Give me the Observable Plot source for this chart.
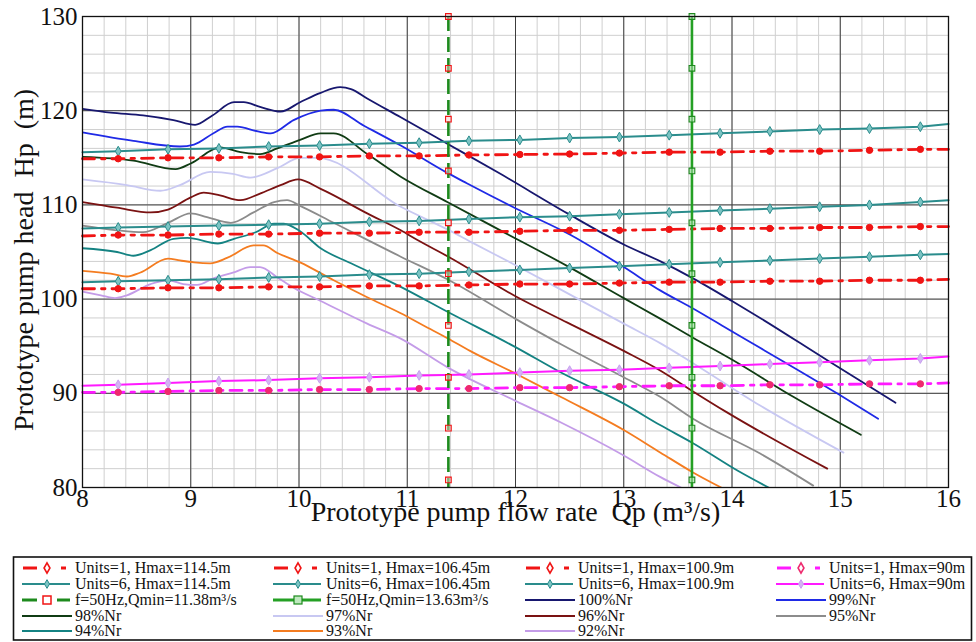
<!DOCTYPE html>
<html><head><meta charset="utf-8">
<script src="https://cdn.jsdelivr.net/npm/d3@7"></script>
<script src="https://cdn.jsdelivr.net/npm/@observablehq/plot@0.6"></script>
<style>body{margin:0;background:#fff;font-family:"Liberation Serif","Times New Roman",serif}svg{display:block}#chart{width:976px;height:642px;overflow:hidden}</style>
</head><body><div id="chart"></div><script>
// ---- data ----
const xTicks = [8, 9, 10, 11, 12, 13, 14, 15, 16];
const yTicks = [80, 90, 100, 110, 120, 130];
const xLabel = "Prototype pump flow rate  Qp (m³/s)";
const yLabel = "Prototype pump head  Hp  (m)";

const markerQ = [8.33, 8.79, 9.26, 9.72, 10.19, 10.65, 11.11, 11.57, 12.04, 12.50, 12.96, 13.42, 13.89, 14.35, 14.81, 15.27, 15.74];
const lineQ = [8, ...markerQ, 16];
const u1_1145 = [114.9, 114.9, 115.0, 115.0, 115.1, 115.1, 115.2, 115.2, 115.3, 115.35, 115.4, 115.5, 115.6, 115.6, 115.7, 115.7, 115.8, 115.9, 115.9];
const u6_1145 = [115.6, 115.7, 115.9, 116.0, 116.2, 116.3, 116.5, 116.6, 116.8, 116.9, 117.1, 117.2, 117.4, 117.6, 117.8, 118.0, 118.1, 118.3, 118.6];
const u1_10645 = [106.7, 106.8, 106.8, 106.9, 106.9, 107.0, 107.0, 107.1, 107.1, 107.2, 107.3, 107.3, 107.4, 107.5, 107.5, 107.6, 107.6, 107.7, 107.7];
const u6_10645 = [107.5, 107.6, 107.7, 107.8, 107.9, 108.0, 108.2, 108.3, 108.5, 108.7, 108.8, 109.0, 109.2, 109.4, 109.6, 109.8, 110.0, 110.3, 110.5];
const u1_1009 = [101.1, 101.1, 101.2, 101.2, 101.3, 101.3, 101.4, 101.4, 101.5, 101.6, 101.6, 101.7, 101.8, 101.8, 101.9, 101.9, 102.0, 102.0, 102.1];
const u6_1009 = [101.8, 101.9, 102.0, 102.1, 102.3, 102.4, 102.6, 102.7, 102.9, 103.1, 103.3, 103.5, 103.7, 103.9, 104.1, 104.3, 104.5, 104.7, 104.8];
const u1_90 = [90.1, 90.1, 90.2, 90.3, 90.3, 90.4, 90.4, 90.5, 90.5, 90.6, 90.6, 90.7, 90.8, 90.8, 90.9, 90.9, 91.0, 91.0, 91.1];
const u6_90 = [90.8, 90.9, 91.1, 91.3, 91.4, 91.6, 91.7, 91.9, 92.0, 92.2, 92.4, 92.5, 92.7, 92.9, 93.1, 93.3, 93.5, 93.7, 93.9];

const qminA = 11.38, qminB = 13.63;
const vMarkH = [130, 124.5, 119.1, 113.6, 108.1, 102.7, 97.2, 91.7, 86.3, 80.8];

const nr100Q = [8, 8.26, 8.56, 8.84, 9.04, 9.2, 9.4, 9.49, 9.64, 9.83, 10.01, 10.2, 10.38, 10.48, 10.63, 10.94, 11.37, 11.86, 12.48, 13.0, 13.34, 13.64, 14.0, 14.26, 14.88, 15.51];
const nr100H = [120.2, 119.8, 119.5, 119.0, 118.5, 119.5, 120.9, 120.9, 120.4, 119.9, 120.9, 121.9, 122.5, 122.3, 121.3, 119.3, 116.5, 113.3, 109.1, 105.8, 104.0, 102.2, 99.8, 98.0, 93.5, 89.0];
const nr99Q = [8, 8.47, 8.9, 9.03, 9.21, 9.34, 9.43, 9.62, 9.74, 9.95, 10.2, 10.32, 10.6, 10.94, 11.37, 11.55, 11.99, 12.51, 13.0, 13.34, 13.64, 13.95, 14.97, 15.35];
const nr99H = [117.7, 116.8, 116.2, 116.4, 117.6, 118.3, 118.3, 117.8, 117.6, 119.0, 120.0, 120.1, 118.4, 116.3, 113.4, 112.3, 109.7, 106.8, 103.4, 100.9, 99.0, 96.9, 90.0, 87.3];
const nr98Q = [8, 8.47, 8.86, 9.0, 9.27, 9.46, 9.64, 9.8, 10.01, 10.2, 10.32, 10.63, 10.94, 11.37, 11.86, 12.48, 13.0, 13.34, 13.64, 14.01, 14.57, 15.19];
const nr98H = [115.1, 114.7, 113.8, 114.4, 116.1, 115.6, 115.4, 116.0, 116.9, 117.6, 117.6, 115.4, 113.0, 110.3, 107.3, 103.5, 100.1, 97.9, 95.9, 93.5, 89.6, 85.6];
const nr97Q = [8, 8.41, 8.72, 8.9, 9.18, 9.39, 9.55, 9.8, 10.01, 10.17, 10.94, 11.37, 11.6, 12.0, 12.5, 13.0, 13.34, 13.64, 14.26, 15.03];
const nr97H = [112.7, 112.1, 111.5, 112.1, 113.5, 113.3, 112.9, 113.9, 115.0, 115.0, 109.8, 107.4, 106.0, 103.6, 100.5, 97.4, 95.3, 93.2, 88.7, 83.7];
const nr96Q = [8, 8.32, 8.63, 8.79, 9.0, 9.12, 9.27, 9.46, 9.64, 9.83, 9.99, 10.2, 10.63, 10.94, 11.09, 11.38, 12.0, 12.48, 13.0, 13.34, 13.64, 13.95, 14.88];
const nr96H = [110.3, 109.7, 109.2, 109.5, 110.8, 111.3, 111.0, 110.5, 111.2, 112.1, 112.7, 111.7, 109.1, 107.3, 106.3, 104.5, 100.3, 97.5, 94.5, 92.4, 90.2, 88.0, 82.0];
const nr95Q = [8, 8.32, 8.56, 8.79, 9.0, 9.15, 9.37, 9.58, 9.77, 9.89, 10.01, 10.32, 10.94, 11.37, 12.0, 12.42, 13.0, 13.34, 13.64, 14.26, 14.75];
const nr95H = [107.8, 107.3, 107.1, 108.1, 109.1, 108.7, 108.1, 109.2, 110.3, 110.5, 109.9, 108.1, 104.5, 102.1, 97.9, 95.2, 91.7, 89.6, 87.3, 83.6, 80.2];
const nr94Q = [8, 8.32, 8.47, 8.63, 8.84, 8.97, 9.25, 9.4, 9.6, 9.77, 9.86, 10.01, 10.2, 10.48, 10.94, 11.38, 12.0, 12.42, 13.0, 13.34, 13.64, 14.05, 14.42];
const nr94H = [105.4, 105.0, 104.6, 105.2, 106.4, 106.5, 105.9, 106.4, 107.1, 108.0, 108.0, 107.2, 105.4, 103.8, 101.3, 98.6, 94.9, 92.2, 88.9, 86.6, 84.7, 81.8, 79.5];
const nr93Q = [8, 8.26, 8.41, 8.53, 8.79, 8.9, 9.03, 9.18, 9.34, 9.58, 9.67, 9.8, 10.01, 10.32, 10.63, 10.94, 11.15, 11.38, 11.58, 12.0, 12.42, 13.0, 13.34, 13.64, 13.95];
const nr93H = [103.0, 102.7, 102.4, 102.8, 104.3, 104.1, 103.9, 103.8, 104.4, 105.7, 105.7, 104.9, 103.9, 102.0, 100.2, 98.5, 97.2, 95.8, 94.5, 92.1, 89.6, 86.1, 83.7, 81.6, 79.7];
const nr92Q = [8, 8.17, 8.3, 8.41, 8.63, 8.79, 8.93, 9.06, 9.21, 9.39, 9.55, 9.64, 9.8, 9.95, 10.2, 10.63, 10.94, 11.38, 12.0, 12.42, 13.0, 13.34, 13.58];
const nr92H = [100.8, 100.4, 100.1, 100.4, 101.6, 102.0, 101.6, 101.5, 102.2, 102.8, 103.4, 103.4, 102.3, 101.2, 99.8, 97.4, 95.8, 92.7, 89.2, 86.9, 83.4, 81.1, 79.7];

// ---- styles ----
const FONT = "'Liberation Serif', 'Times New Roman', serif";
const RED = "#f01414", TEAL = "#2a8c8c", MAG = "#ff1aff", GRN_D = "#1d8a1d", GRN_S = "#24a024";
const curves = [
  {label: "100%Nr", color: "#17176f", q: nr100Q, h: nr100H},
  {label: "99%Nr", color: "#1f2ae6", q: nr99Q, h: nr99H},
  {label: "98%Nr", color: "#103c14", q: nr98Q, h: nr98H},
  {label: "97%Nr", color: "#c8c8f2", q: nr97Q, h: nr97H},
  {label: "96%Nr", color: "#7a1212", q: nr96Q, h: nr96H},
  {label: "95%Nr", color: "#8c8c8c", q: nr95Q, h: nr95H},
  {label: "94%Nr", color: "#148282", q: nr94Q, h: nr94H},
  {label: "93%Nr", color: "#f47c20", q: nr93Q, h: nr93H},
  {label: "92%Nr", color: "#c49ce8", q: nr92Q, h: nr92H}
];
const units6 = [
  {label: "Units=6, Hmax=114.5m", h: u6_1145, color: TEAL, mfill: "#7cc4c4", mstroke: TEAL},
  {label: "Units=6, Hmax=106.45m", h: u6_10645, color: TEAL, mfill: "#7cc4c4", mstroke: TEAL},
  {label: "Units=6, Hmax=100.9m", h: u6_1009, color: TEAL, mfill: "#7cc4c4", mstroke: TEAL},
  {label: "Units=6, Hmax=90m", h: u6_90, color: MAG, mfill: "#d4b4f4", mstroke: "#c8a0f0"}
];
const units1 = [
  {label: "Units=1, Hmax=114.5m", h: u1_1145, color: RED, mfill: RED},
  {label: "Units=1, Hmax=106.45m", h: u1_10645, color: RED, mfill: RED},
  {label: "Units=1, Hmax=100.9m", h: u1_1009, color: RED, mfill: RED},
  {label: "Units=1, Hmax=90m", h: u1_90, color: MAG, mfill: "#ee2a6e"}
];
const rows = (ys) => lineQ.map((q, i) => ({q, h: ys[i]}));
const mrows = (ys) => markerQ.map((q, i) => ({q, h: ys[i + 1]}));

const minorQ = d3.range(0, 41).map(i => +(8 + i * 0.2).toFixed(1));
const minorH = d3.range(80, 131, 2);

const marks = [
  Plot.gridX({ticks: minorQ, stroke: "#cfcfcf", strokeOpacity: 1}),
  Plot.gridY({ticks: minorH, stroke: "#cfcfcf", strokeOpacity: 1}),
  Plot.gridX({ticks: xTicks.slice(1, -1), stroke: "#3c3c3c", strokeOpacity: 1}),
  Plot.gridY({ticks: yTicks.slice(1, -1), stroke: "#3c3c3c", strokeOpacity: 1})
];
for (const c of curves) {
  marks.push(Plot.line(c.q.map((q, i) => ({q, h: c.h[i]})), {x: "q", y: "h", stroke: c.color, strokeWidth: 1.8, curve: "monotone-x", clip: true}));
}
for (const u of units6) {
  marks.push(Plot.line(rows(u.h), {x: "q", y: "h", stroke: u.color, strokeWidth: 2}));
  marks.push(Plot.dot(mrows(u.h), {x: "q", y: "h", symbol: "diamond", r: 3, fill: u.mfill, stroke: u.mstroke, strokeWidth: 1}));
}
for (const u of units1) {
  marks.push(Plot.line(rows(u.h), {x: "q", y: "h", stroke: u.color, strokeWidth: 2.8, strokeDasharray: "12,7,3.5,7"}));
  marks.push(Plot.dot(mrows(u.h), {x: "q", y: "h", symbol: "circle", r: 3.2, fill: u.mfill, stroke: u.mfill, strokeWidth: 1}));
}
marks.push(
  Plot.ruleX([qminA], {stroke: GRN_D, strokeWidth: 2.6, strokeDasharray: "15,6"}),
  Plot.dot(vMarkH, {x: () => qminA, y: d => d, symbol: "square", r: 3.2, fill: "#f4d0d0", fillOpacity: 0.5, stroke: RED, strokeWidth: 1.1}),
  Plot.ruleX([qminB], {stroke: GRN_S, strokeWidth: 2.6}),
  Plot.dot(vMarkH, {x: () => qminB, y: d => d, symbol: "square", r: 3.2, fill: "#b8e6b8", fillOpacity: 0.5, stroke: GRN_D, strokeWidth: 1.1}),
  Plot.axisX({ticks: xTicks, tickSize: 0, tickPadding: 2, fontSize: 25, label: null, tickFormat: d => String(d)}),
  Plot.axisY({ticks: yTicks, tickSize: 0, tickPadding: 5, fontSize: 25, label: null, tickFormat: d => String(d)}),
  Plot.text([xLabel], {frameAnchor: "bottom", lineAnchor: "middle", textAnchor: "middle", dy: 25, fontSize: 28, fill: "#111"}),
  Plot.text([yLabel], {frameAnchor: "left", lineAnchor: "middle", textAnchor: "middle", dx: -58, dy: 8, rotate: -90, fontSize: 28, fill: "#111"}),
  Plot.frame({stroke: "#111", strokeWidth: 1.3})
);

const chart = Plot.plot({
  width: 976, height: 556,
  marginLeft: 82, marginRight: 28, marginTop: 16, marginBottom: 69,
  x: {domain: [8, 16]},
  y: {domain: [80, 130]},
  style: {fontFamily: FONT, background: "#fff", color: "#111"},
  marks
});
document.getElementById("chart").appendChild(chart);

// ---- legend (below the SVG) ----
const legendItems = [
  {label: units1[0].label, kind: "dash", color: RED, m: "#fff", ms: RED},
  {label: units1[1].label, kind: "dash", color: RED, m: "#fff", ms: RED},
  {label: units1[2].label, kind: "dash", color: RED, m: "#fff", ms: RED},
  {label: units1[3].label, kind: "dash", color: MAG, m: "#fff", ms: "#ee2a6e"},
  {label: units6[0].label, kind: "solidm", color: TEAL, m: "#7cc4c4", ms: TEAL},
  {label: units6[1].label, kind: "solidm", color: TEAL, m: "#7cc4c4", ms: TEAL},
  {label: units6[2].label, kind: "solidm", color: TEAL, m: "#7cc4c4", ms: TEAL},
  {label: units6[3].label, kind: "solidm", color: MAG, m: "#d4b4f4", ms: "#c8a0f0"},
  {label: "f=50Hz,Qmin=11.38m³/s", kind: "vdash", color: GRN_D, m: "#fff", ms: RED},
  {label: "f=50Hz,Qmin=13.63m³/s", kind: "vsolid", color: GRN_S, m: "#cfe", ms: GRN_D},
  ...curves.map(c => ({label: c.label, kind: "plain", color: c.color}))
];
const colX = [75, 326, 578, 829];
const rowY = [12, 28, 44, 60, 75];
const leg = d3.create("svg").attr("width", 976).attr("height", 86)
  .style("font-family", FONT);
leg.append("rect").attr("x", 13.5).attr("y", 1).attr("width", 958).attr("height", 83)
  .attr("fill", "#fff").attr("stroke", "#111").attr("stroke-width", 1.6);
legendItems.forEach((it, i) => {
  const tx = colX[i % 4], ty = rowY[Math.floor(i / 4)];
  const g = leg.append("g");
  const seg = (x1, x2, w, c) => g.append("line").attr("x1", tx + x1).attr("x2", tx + x2).attr("y1", ty).attr("y2", ty).attr("stroke", c).attr("stroke-width", w);
  if (it.kind === "dash") {
    seg(-52, -38, 3, it.color); seg(-14, -9, 3, it.color);
    g.append("path").attr("d", d3.symbol(d3.symbolDiamond, 30)()).attr("transform", `translate(${tx - 28},${ty})`)
      .attr("fill", it.m).attr("stroke", it.ms).attr("stroke-width", 1.6);
  } else if (it.kind === "solidm") {
    seg(-53, -5, 2, it.color);
    g.append("path").attr("d", d3.symbol(d3.symbolDiamond, 22)()).attr("transform", `translate(${tx - 28},${ty})`)
      .attr("fill", it.m).attr("stroke", it.ms).attr("stroke-width", 1);
  } else if (it.kind === "vdash") {
    seg(-53, -38, 3, it.color); seg(-18, -5, 3, it.color);
    g.append("rect").attr("x", tx - 32).attr("y", ty - 4).attr("width", 8).attr("height", 8)
      .attr("fill", "#fff").attr("stroke", it.ms).attr("stroke-width", 1.5);
  } else if (it.kind === "vsolid") {
    seg(-53, -5, 3, it.color);
    g.append("rect").attr("x", tx - 32).attr("y", ty - 4).attr("width", 8).attr("height", 8)
      .attr("fill", "#bfe8bf").attr("stroke", it.ms).attr("stroke-width", 1.2);
  } else {
    seg(-53, -3, 2.2, it.color);
  }
  g.append("text").attr("x", tx).attr("y", ty).attr("dy", "0.33em").attr("font-size", 16).attr("fill", "#111").text(it.label);
});
document.getElementById("chart").appendChild(leg.node());
</script></body></html>
